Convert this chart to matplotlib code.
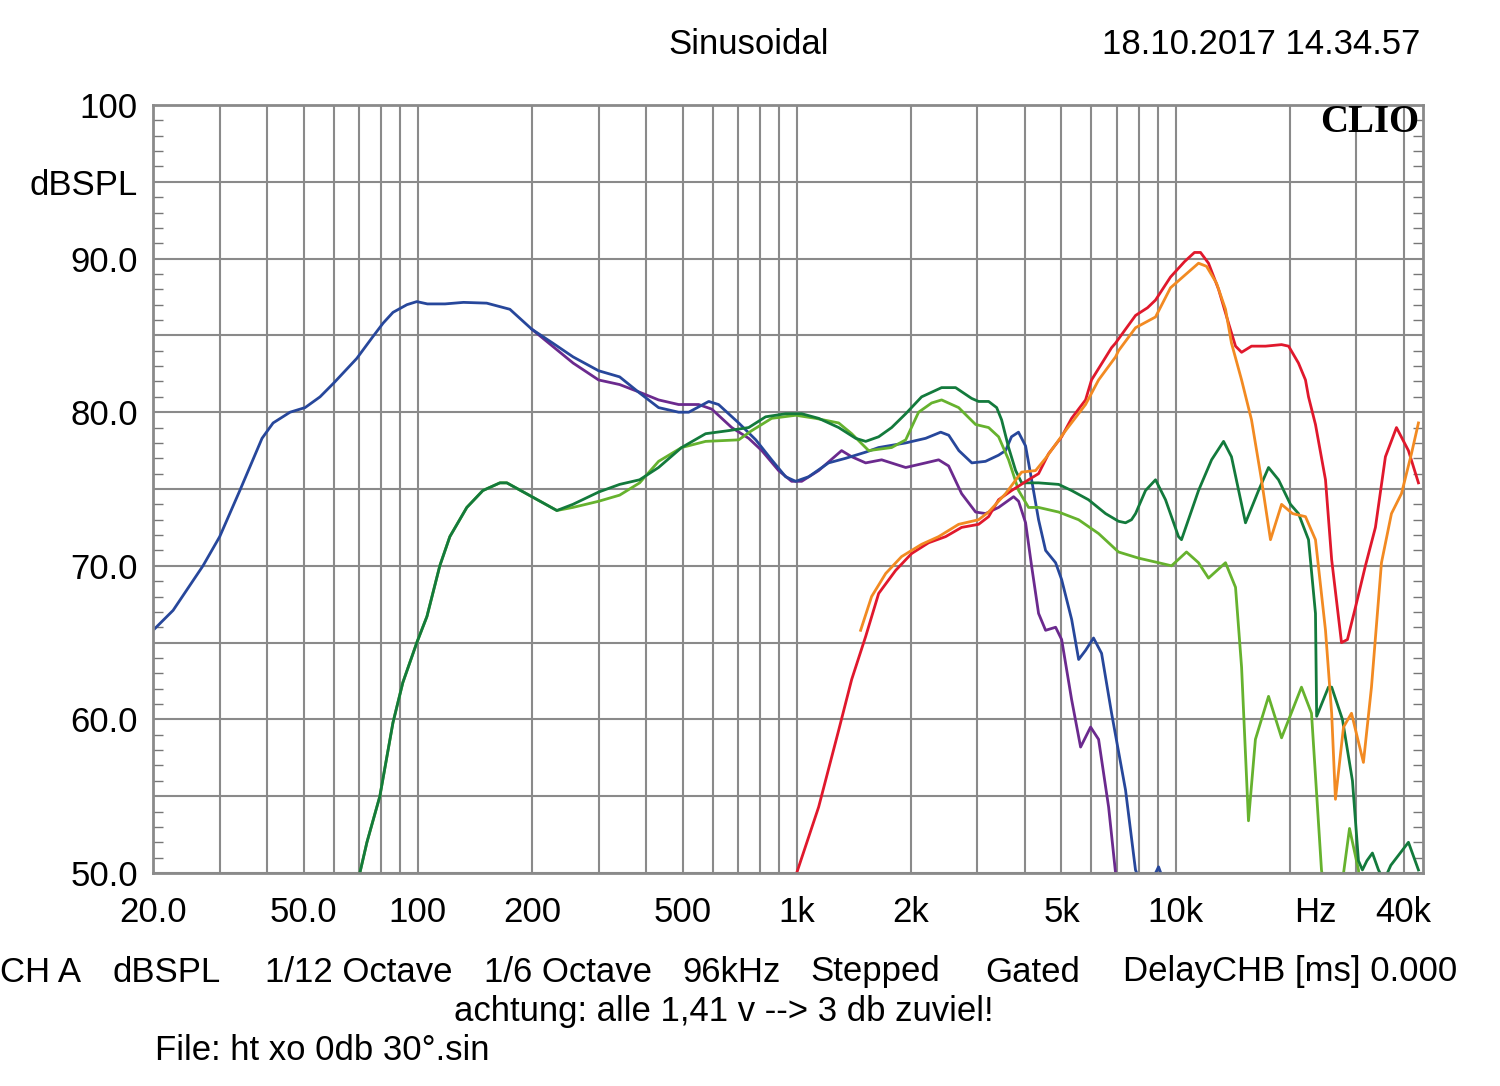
import matplotlib
matplotlib.use("Agg")
import matplotlib.pyplot as plt
from matplotlib.transforms import blended_transform_factory

plt.rcParams["font.family"] = ["Liberation Sans", "DejaVu Sans"]

# ─── Measured curves (frequency in Hz, level in dBSPL) ───

woofer_a_f = [20.2, 22.6, 27.1, 30, 33.9, 38.8, 41.5, 46, 50.4, 55.2, 60, 69, 76, 81,
              86, 93.6, 99.4, 106, 118, 132, 152, 175, 200, 227, 257, 300, 341, 385,
              432, 488, 519, 586, 622, 703, 780, 859, 935, 994, 1076, 1214, 1347, 1521,
              1646, 1940, 2190, 2400, 2520, 2680, 2900, 3150, 3410, 3560, 3690, 3850,
              4020, 4170, 4350, 4540, 4825, 5005, 5320, 5550, 5790, 6075, 6380, 6780,
              7380, 7840, 8380, 8700, 9020, 9390, 9900]
woofer_a_db = [65.9, 67.1, 70.0, 71.9, 74.9, 78.3, 79.3, 80.0, 80.3, 81.0, 81.9, 83.5, 84.9,
               85.8, 86.5, 87.0, 87.2, 87.05, 87.05, 87.15, 87.1, 86.7, 85.4, 84.5, 83.6, 82.7,
               82.3, 81.25, 80.3, 80.0, 80.0, 80.7, 80.5, 79.3, 78.2, 76.9, 75.8, 75.5, 75.8,
               76.7, 77.0, 77.4, 77.7, 78.0, 78.3, 78.7, 78.5, 77.5, 76.7, 76.8, 77.2, 77.5,
               78.4, 78.7, 77.8, 75.6, 73.0, 71.0, 70.2, 69.1, 66.5, 63.9, 64.5, 65.3, 64.3,
               60.4, 55.4, 50.2, 48.5, 49.6, 50.4, 49.2, 45.0]

woofer_b_f = [200, 257, 300, 341, 385, 432, 488, 551, 597, 674, 747, 809, 896, 970, 1031,
              1143, 1314, 1397, 1521, 1676, 1940, 2190, 2370, 2518, 2725, 2967, 3152, 3412,
              3738, 3853, 4020, 4169, 4350, 4540, 4825, 5005, 5317, 5616, 5968, 6265, 6658,
              6946, 7300]
woofer_b_db = [85.4, 83.2, 82.1, 81.8, 81.3, 80.8, 80.5, 80.5, 80.2, 79.0, 78.3, 77.5, 76.2,
               75.5, 75.5, 76.2, 77.5, 77.1, 76.7, 76.9, 76.4, 76.7, 76.9, 76.5, 74.7, 73.5,
               73.4, 73.8, 74.5, 74.2, 72.8, 70.0, 66.9, 65.8, 66.0, 65.2, 61.3, 58.2, 59.5,
               58.7, 54.3, 50.0, 46.0]

mid_a_f = [70.3, 73.4, 79.4, 86, 91.3, 99.4, 105.7, 114.3, 121.5, 134.7, 148.5, 164.7, 171.8,
           200, 232.8, 256.6, 300, 341, 385, 432, 497, 575, 661, 747, 828, 935, 1031, 1143,
           1291, 1431, 1521, 1646, 1781, 1940, 2137, 2413, 2627, 2895, 3021, 3211, 3372,
           3475, 3626, 3784, 3925, 4350, 4914, 5317, 5893, 6536, 7071, 7379, 7652, 7844,
           8333, 8855, 9410, 10183, 10370, 11500, 12450, 13390, 14050, 15300, 16560, 17600,
           18700, 20110, 21110, 22440, 23410, 23580, 25330, 25830, 27580, 29310, 30400,
           31140, 32000, 33090, 34330, 35500, 37000, 41190, 43770]
mid_a_db = [50.0, 52.0, 55.0, 59.8, 62.4, 65.0, 66.7, 70.0, 71.9, 73.8, 74.9, 75.4, 75.4,
            74.5, 73.6, 74.0, 74.8, 75.3, 75.6, 76.4, 77.7, 78.6, 78.8, 79.0, 79.7, 79.9,
            79.9, 79.6, 79.0, 78.3, 78.1, 78.4, 79.0, 79.9, 81.0, 81.6, 81.6, 80.9, 80.7,
            80.7, 80.3, 79.5, 77.7, 76.2, 75.4, 75.4, 75.3, 74.9, 74.3, 73.4, 72.9, 72.8,
            73.0, 73.4, 74.9, 75.6, 74.3, 71.9, 71.7, 74.9, 76.9, 78.1, 77.1, 72.8, 74.9,
            76.4, 75.6, 74.0, 73.4, 71.7, 66.9, 60.2, 62.1, 62.1, 60.0, 56.0, 50.8, 50.2,
            50.8, 51.3, 50.2, 49.5, 50.5, 52.0, 50.2]

mid_b_f = [70.3, 73.4, 79.4, 86, 91.3, 99.4, 105.7, 114.3, 121.5, 134.7, 148.5, 164.7, 171.8,
           200, 232.8, 256.6, 300, 341, 385, 432, 497, 575, 703, 761, 859, 994, 1122, 1291,
           1397, 1549, 1781, 1940, 2098, 2271, 2413, 2676, 2967, 3211, 3412, 3626, 3853,
           4093, 4350, 4914, 5548, 6265, 7071, 7987, 9018, 9759, 10690, 11500, 12220, 13550,
           14400, 14940, 15580, 16250, 17600, 19050, 21500, 22850, 24280, 25330, 27080,
           28790, 30400, 31500]
mid_b_db = [50.0, 52.0, 55.0, 59.8, 62.4, 65.0, 66.7, 70.0, 71.9, 73.8, 74.9, 75.4, 75.4,
            74.5, 73.6, 73.8, 74.2, 74.6, 75.4, 76.8, 77.7, 78.1, 78.2, 78.8, 79.6, 79.8,
            79.6, 79.3, 78.6, 77.5, 77.7, 78.2, 80.0, 80.6, 80.8, 80.3, 79.2, 79.0, 78.4,
            76.9, 74.9, 73.8, 73.8, 73.5, 73.0, 72.1, 70.9, 70.5, 70.2, 70.0, 70.9, 70.2,
            69.2, 70.2, 68.6, 63.4, 53.4, 58.7, 61.5, 58.8, 62.1, 60.4, 50.2, 47.0, 48.0,
            52.9, 50.2, 45.0]

tweeter_a_f = [1000, 1143, 1291, 1397, 1521, 1646, 1825, 2011, 2230, 2473, 2725, 3021, 3211,
               3412, 3693, 4093, 4350, 4624, 5005, 5317, 5788, 6002, 6779, 6946, 7379, 7844,
               8435, 8855, 9700, 10560, 11220, 11640, 12220, 12990, 13800, 14400, 14940,
               15870, 17280, 19050, 19880, 21110, 22030, 22440, 23410, 24880, 25830, 27420,
               28430, 29850, 31710, 33700, 35810, 38300, 41190, 43770]
tweeter_a_db = [50.0, 54.3, 59.3, 62.6, 65.4, 68.2, 69.7, 70.8, 71.5, 71.9, 72.5, 72.7, 73.2,
                74.3, 74.9, 75.6, 76.0, 77.3, 78.4, 79.6, 80.8, 82.1, 84.2, 84.5, 85.4, 86.3,
                86.8, 87.3, 88.8, 89.8, 90.4, 90.4, 89.7, 88.0, 85.8, 84.3, 83.9, 84.3, 84.3,
                84.4, 84.3, 83.2, 82.1, 81.0, 79.2, 75.6, 70.4, 65.0, 65.2, 67.3, 70.0, 72.5,
                77.1, 79.0, 77.5, 75.4]

tweeter_b_f = [1475, 1577, 1718, 1892, 2137, 2370, 2676, 3021, 3211, 3560, 3925, 4272, 4540,
               5126, 5788, 6265, 6946, 7071, 7844, 8855, 9700, 10560, 11500, 12070, 12830,
               13550, 14050, 14940, 15870, 16860, 17810, 19050, 20360, 22030, 23410, 24880,
               25830, 26430, 27760, 29140, 31330, 32900, 34960, 37150, 39480, 41950, 43770]
tweeter_b_db = [65.8, 68.0, 69.5, 70.6, 71.4, 71.9, 72.7, 73.0, 73.5, 74.7, 76.1, 76.2, 77.0,
                78.8, 80.5, 82.1, 83.6, 84.0, 85.5, 86.2, 88.1, 88.9, 89.7, 89.5, 88.4, 86.7,
                84.5, 82.1, 79.5, 75.6, 71.7, 74.0, 73.4, 73.2, 71.7, 65.8, 60.4, 54.8, 59.5,
                60.4, 57.2, 62.1, 70.2, 73.4, 74.7, 77.3, 79.3]

# ─── Axis layout ───

grid_freqs = ([20, 30, 40, 50, 60, 70, 80, 90]
              + [100 * k for k in range(1, 10)]
              + [1000 * k for k in range(1, 10)]
              + [10000, 20000, 30000, 40000])
x_label_freqs = [20, 50, 100, 200, 500, 1000, 2000, 5000, 10000, 23400, 40000]
x_labels = ["20.0", "50.0", "100", "200", "500", "1k", "2k", "5k", "10k", "Hz", "40k"]
y_ticks = [50, 55, 60, 65, 70, 75, 80, 85, 90, 95, 100]
y_labels = ["50.0", "", "60.0", "", "70.0", "", "80.0", "", "90.0", "dBSPL", "100"]

W, H = 1500, 1086
fig = plt.figure(figsize=(W / 100, H / 100), dpi=100)
ax = fig.add_axes([153 / W, 1 - 873 / H, (1423 - 153) / W, 768 / H])

ax.set_xscale("log")
ax.set_xlim(20, 45000)
ax.set_ylim(50, 100)

grid_color = "#8a8a8a"
ax.set_xticks(grid_freqs)
ax.set_xticklabels([])
ax.xaxis.set_minor_locator(matplotlib.ticker.NullLocator())
ax.set_yticks(y_ticks)
ax.set_yticklabels(y_labels, fontsize=25)
ax.set_yticks(range(50, 101), minor=True)
ax.tick_params(axis="x", which="both", length=0)
ax.tick_params(axis="y", which="major", length=0, pad=11)
ax.tick_params(axis="y", which="minor", direction="in", length=7, width=1,
               color="#777777", left=True, right=True)
ax.grid(True, which="major", color=grid_color, linewidth=1.5)
ax.set_axisbelow(True)
for spine in ax.spines.values():
    spine.set_color("#8a8a8a")
    spine.set_linewidth(2)

# ─── Curves ───

curves = [
    (woofer_b_f, woofer_b_db, "#6b2a8e"),
    (woofer_a_f, woofer_a_db, "#27479b"),
    (mid_b_f, mid_b_db, "#66b22e"),
    (mid_a_f, mid_a_db, "#137a3c"),
    (tweeter_a_f, tweeter_a_db, "#e0182c"),
    (tweeter_b_f, tweeter_b_db, "#f28a22"),
]
for f, db, color in curves:
    ax.plot(f, db, color=color, linewidth=2.0, solid_joinstyle="round")

# ─── Texts ───

trans = blended_transform_factory(ax.transData, ax.transAxes)
for f, lab in zip(x_label_freqs, x_labels):
    ax.text(f, -0.0508, lab, transform=trans, ha="center", va="center", fontsize=25)

ax.text(0.997, 0.977, "CLIO", transform=ax.transAxes, ha="right", va="center",
        fontsize=28, fontweight="bold", family=["Liberation Serif", "DejaVu Serif"])

fig.text(749 / W, 1 - 45 / H, "Sinusoidal", ha="center", va="center", fontsize=25)
fig.text(1420 / W, 1 - 45 / H, "18.10.2017 14.34.57", ha="right", va="center", fontsize=25)

footer_words = ["CH A", "dBSPL", "1/12 Octave", "1/6 Octave", "96kHz", "Stepped",
                "Gated", "DelayCHB [ms] 0.000"]
footer_x = [0, 113, 265, 484, 682, 810, 985, 1123]
for x, word in zip(footer_x, footer_words):
    fig.text(x / W, 1 - 972 / H, word, ha="left", va="center", fontsize=25)

fig.text(724 / W, 1 - 1012 / H, "achtung: alle 1,41 v --> 3 db zuviel!",
         ha="center", va="center", fontsize=25)
fig.text(155 / W, 1 - 1050 / H, "File: ht xo 0db 30°.sin", ha="left", va="center",
         fontsize=25)

fig.savefig("out.png", dpi=100, facecolor="white")
